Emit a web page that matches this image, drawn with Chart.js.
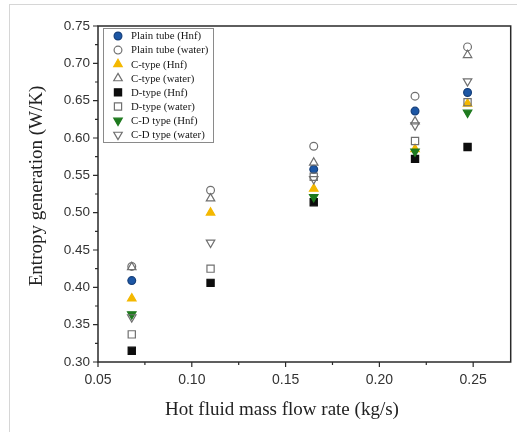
<!DOCTYPE html>
<html>
<head>
<meta charset="utf-8">
<script src="https://cdn.jsdelivr.net/npm/chart.js@4.4.1/dist/chart.umd.min.js"></script>
<style>
  html, body { margin: 0; padding: 0; background: #fff; }
  #wrap { position: relative; width: 517px; height: 432px; overflow: hidden; }
  #frame { position: absolute; left: 9px; top: 4px; width: 520px; height: 440px; border: 1px solid #d6d6d6; box-sizing: border-box; }
  #c { position: absolute; left: 0; top: 0; }
</style>
</head>
<body>
<div id="wrap">
  <div id="frame"></div>
  <canvas id="c" width="517" height="432"></canvas>
</div>
<script>
// Hot fluid mass flow rate (kg/s)
const flowRates = [0.068, 0.110, 0.165, 0.219, 0.247];

// Entropy generation (W/K) for each configuration
const plainHnf   = [0.409, null,  0.558, 0.636, 0.661];
const plainWater = [0.428, 0.530, 0.589, 0.656, 0.722];
const cHnf       = [0.385, 0.500, 0.532, 0.585, 0.646];
const cWater     = [0.427, 0.519, 0.567, 0.622, 0.711];
const dHnf       = [0.315, 0.406, 0.514, 0.572, 0.588];
const dWater     = [0.337, 0.425, 0.548, 0.596, 0.648];
const cdHnf      = [0.364, null,  0.521, 0.582, 0.634];
const cdWater    = [0.360, 0.460, 0.545, 0.617, 0.676];

const seriesLabels = [
  'Plain tube (Hnf)', 'Plain tube (water)', 'C-type (Hnf)', 'C-type (water)',
  'D-type (Hnf)', 'D-type (water)', 'C-D type (Hnf)', 'C-D type (water)'
];

const xTicks = [0.05, 0.10, 0.15, 0.20, 0.25];
const yTicks = [0.30, 0.35, 0.40, 0.45, 0.50, 0.55, 0.60, 0.65, 0.70, 0.75];

const GREY = '#707070';
const styles = [
  { pointStyle: 'circle',   radius: 3.9, rotation: 0,   bg: '#1d57a5', border: '#163f7a' },
  { pointStyle: 'circle',   radius: 3.9, rotation: 0,   bg: 'rgba(255,255,255,0)', border: GREY },
  { pointStyle: 'triangle', radius: 4.9, rotation: 0,   bg: '#f4b800', border: '#f4b800' },
  { pointStyle: 'triangle', radius: 4.9, rotation: 0,   bg: 'rgba(255,255,255,0)', border: GREY },
  { pointStyle: 'rect',     radius: 5.1, rotation: 0,   bg: '#0d0d0d', border: '#0d0d0d' },
  { pointStyle: 'rect',     radius: 5.1, rotation: 0,   bg: 'rgba(255,255,255,0)', border: GREY },
  { pointStyle: 'triangle', radius: 4.9, rotation: 180, bg: '#1e7a1e', border: '#1e7a1e' },
  { pointStyle: 'triangle', radius: 4.9, rotation: 180, bg: 'rgba(255,255,255,0)', border: GREY }
];

const seriesValues = [plainHnf, plainWater, cHnf, cWater, dHnf, dWater, cdHnf, cdWater];

const datasets = seriesValues.map((vals, i) => ({
  label: seriesLabels[i],
  data: flowRates.map((x, j) => ({ x: x, y: vals[j] })),
  pointStyle: styles[i].pointStyle,
  pointRadius: styles[i].radius,
  pointRotation: styles[i].rotation,
  backgroundColor: styles[i].bg,
  borderColor: styles[i].border,
  pointBorderWidth: 1.2,
  showLine: false,
  order: seriesValues.length - i   // later series sit on top
}));

// Plot frame, outward tick marks, inset legend and axis titles
const decorations = {
  id: 'decorations',
  afterDraw(chart) {
    const ctx = chart.ctx;
    const a = chart.chartArea;
    const xs = chart.scales.x, ys = chart.scales.y;
    ctx.save();
    ctx.strokeStyle = '#2a2a2a';
    ctx.lineWidth = 1.5;
    ctx.strokeRect(a.left, a.top, a.right - a.left, a.bottom - a.top);

    ctx.lineWidth = 1.2;
    ctx.beginPath();
    for (let v = 0.30; v <= 0.7501; v += 0.025) {
      const py = ys.getPixelForValue(v);
      const major = Math.abs(Math.round(v / 0.05) * 0.05 - v) < 1e-6;
      const len = major ? 5 : 3;
      ctx.moveTo(a.left - len, py); ctx.lineTo(a.left, py);
    }
    for (let v = 0.05; v <= 0.2701; v += 0.025) {
      const px = xs.getPixelForValue(v);
      const major = Math.abs(Math.round(v / 0.05) * 0.05 - v) < 1e-6;
      const len = major ? 5 : 3;
      ctx.moveTo(px, a.bottom); ctx.lineTo(px, a.bottom + len);
    }
    ctx.stroke();

    // legend box
    const lx = 103, ly = 28, lw = 110, lh = 114, row = 14.1;
    ctx.fillStyle = '#fff';
    ctx.fillRect(lx, ly, lw, lh);
    ctx.strokeStyle = '#8a8a8a';
    ctx.lineWidth = 1;
    ctx.strokeRect(lx + 0.5, ly + 0.5, lw, lh);
    ctx.font = '10.8px "Liberation Serif", serif';
    ctx.textBaseline = 'middle';
    ctx.textAlign = 'left';
    chart.data.datasets.forEach((ds, i) => {
      const cy = ly + 8 + i * row;
      ctx.fillStyle = ds.backgroundColor;
      ctx.strokeStyle = ds.borderColor;
      ctx.lineWidth = 1.2;
      Chart.helpers.drawPoint(ctx, {
        pointStyle: ds.pointStyle, radius: ds.pointRadius, rotation: ds.pointRotation, borderWidth: 1.2
      }, 118, cy);
      ctx.fillStyle = '#161616';
      ctx.fillText(ds.label, 131, cy + 0.5);
    });

    // axis titles
    ctx.fillStyle = '#222';
    ctx.font = '19px "Liberation Serif", serif';
    ctx.textAlign = 'center';
    ctx.textBaseline = 'middle';
    ctx.fillText('Hot fluid mass flow rate (kg/s)', 282, 410);
    ctx.translate(37, 186);
    ctx.rotate(-Math.PI / 2);
    ctx.fillText('Entropy generation (W/K)', 0, 0);
    ctx.restore();
  }
};

new Chart(document.getElementById('c'), {
  type: 'scatter',
  data: { datasets: datasets },
  options: {
    responsive: false,
    animation: false,
    layout: { padding: { top: 26, right: 4, left: 0, bottom: 0 } },
    plugins: { legend: { display: false }, tooltip: { enabled: false } },
    scales: {
      x: {
        type: 'linear', min: 0.05, max: 0.27,
        grid: { drawOnChartArea: false, drawTicks: false },
        border: { display: false },
        afterBuildTicks: s => { s.ticks = xTicks.map(v => ({ value: v })); },
        afterFit: s => { s.height = 70; },
        ticks: {
          padding: 10, color: '#333',
          font: { family: '"Liberation Sans", Arial, sans-serif', size: 14 },
          callback: v => Number(v).toFixed(2)
        }
      },
      y: {
        type: 'linear', min: 0.30, max: 0.75,
        grid: { drawOnChartArea: false, drawTicks: false },
        border: { display: false },
        afterBuildTicks: s => { s.ticks = yTicks.map(v => ({ value: v })); },
        afterFit: s => { s.width = 98; },
        ticks: {
          padding: 8, color: '#333',
          font: { family: '"Liberation Sans", Arial, sans-serif', size: 13.5 },
          callback: v => Number(v).toFixed(2)
        }
      }
    }
  },
  plugins: [decorations]
});
</script>
</body>
</html>
